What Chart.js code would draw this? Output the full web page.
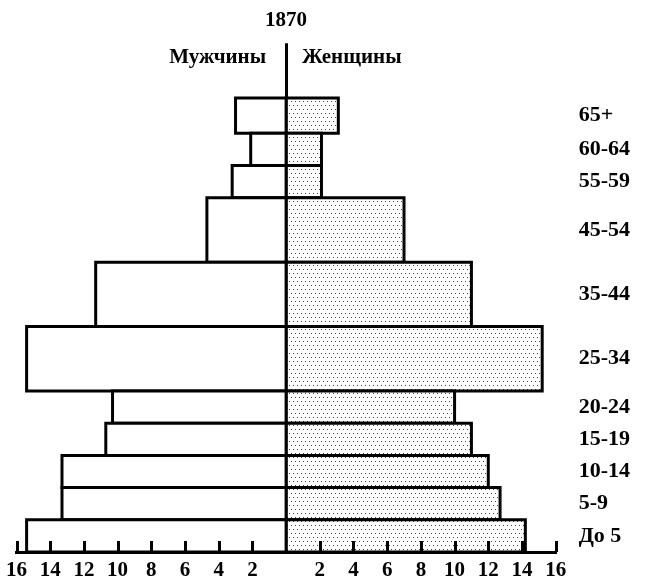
<!DOCTYPE html>
<html>
<head>
<meta charset="utf-8">
<script src="https://cdn.jsdelivr.net/npm/chart.js@4"></script>
<style>
  html, body { margin: 0; padding: 0; background: #fff; }
</style>
</head>
<body>
<canvas id="pyramidChart" width="671" height="581"></canvas>
<script>
  // Age groups, from youngest (bottom) to oldest (top)
  const ageGroups = ['До 5', '5-9', '10-14', '15-19', '20-24', '25-34', '35-44', '45-54', '55-59', '60-64', '65+'];
  const ageFrom = [0, 5, 10, 15, 20, 25, 35, 45, 55, 60, 65];
  const ageTo = [5, 10, 15, 20, 25, 35, 45, 55, 60, 65, 70.5];

  // Share of the population, %
  const men = [15.4, 13.3, 13.3, 10.7, 10.3, 15.4, 11.3, 4.7, 3.2, 2.1, 3.0];
  const women = [14.2, 12.7, 12.0, 11.0, 10.0, 15.2, 11.0, 7.0, 2.1, 2.1, 3.1];

  const sexLabels = ['Мужчины', 'Женщины'];
  const chartTitle = '1870';

  const font = '"Liberation Serif", "Times New Roman", serif';

  // Stipple pattern for the women's bars
  const tile = document.createElement('canvas');
  tile.width = 8;
  tile.height = 8;
  const tctx = tile.getContext('2d');
  tctx.fillStyle = '#fff';
  tctx.fillRect(0, 0, 8, 8);
  tctx.fillStyle = '#444';
  [[1, 1], [5, 1], [3, 5], [7, 5]].forEach(function (p) { tctx.fillRect(p[0], p[1], 1, 1); });

  const ctx = document.getElementById('pyramidChart').getContext('2d');
  const dots = ctx.createPattern(tile, 'repeat');

  // one closed rectangle per age group, from the axis (0) to the value
  function box(value, i) {
    return [
      { x: 0, y: ageFrom[i] },
      { x: value, y: ageFrom[i] },
      { x: value, y: ageTo[i] },
      { x: 0, y: ageTo[i] },
      { x: 0, y: ageFrom[i] }
    ];
  }

  const datasets = [];
  men.forEach(function (v, i) {
    datasets.push({
      label: sexLabels[0] + ' ' + ageGroups[i],
      data: box(-v, i),
      backgroundColor: '#fff',
      borderColor: '#000',
      borderWidth: 3,
      fill: 'shape'
    });
  });
  women.forEach(function (v, i) {
    datasets.push({
      label: sexLabels[1] + ' ' + ageGroups[i],
      data: box(v, i),
      backgroundColor: dots,
      borderColor: '#000',
      borderWidth: 3,
      fill: 'shape'
    });
  });

  const ageMids = ageFrom.map(function (a, i) { return (a + ageTo[i]) / 2; });

  // Мужчины / Женщины on either side of the centre line, and the short inner ticks
  const extras = {
    id: 'extras',
    afterDatasetsDraw(chart) {
      const c = chart.ctx;
      const x = chart.scales.x;
      const bottom = chart.chartArea.bottom;
      c.save();
      c.strokeStyle = '#000';
      c.lineWidth = 3;
      x.ticks.forEach(function (t) {
        if (t.value === 0) return;
        const px = Math.round(x.getPixelForValue(t.value)) + 0.5;
        c.beginPath();
        c.moveTo(px, bottom);
        c.lineTo(px, bottom - 11);
        c.stroke();
      });
      c.restore();
    },
    afterDraw(chart) {
      const c = chart.ctx;
      const cx = chart.scales.x.getPixelForValue(0);
      const y = chart.chartArea.top + 14;
      c.save();
      c.font = 'bold 21px ' + font;
      c.fillStyle = '#000';
      c.textBaseline = 'middle';
      c.textAlign = 'right';
      c.fillText(sexLabels[0], cx - 20, y);
      c.textAlign = 'left';
      c.fillText(sexLabels[1], cx + 16, y);
      c.restore();
    }
  };

  new Chart(ctx, {
    type: 'scatter',
    data: { datasets: datasets },
    options: {
      responsive: false,
      animation: false,
      showLine: true,
      elements: {
        point: { radius: 0, hoverRadius: 0 },
        line: { tension: 0, borderJoinStyle: 'miter' }
      },
      layout: {
        padding: { left: 0, right: 26, top: 6, bottom: 0 }
      },
      plugins: {
        legend: { display: false },
        tooltip: { enabled: false },
        title: {
          display: true,
          text: chartTitle,
          fullSize: false,
          color: '#000',
          font: { family: font, size: 21, weight: 'bold' },
          padding: { top: 2, bottom: 10 }
        }
      },
      scales: {
        x: {
          type: 'linear',
          min: -16,
          max: 16,
          afterFit: function (axis) { axis.height = 29; },
          border: { display: true, color: '#000', width: 3 },
          grid: {
            color: function (c) { return c.tick && c.tick.value === 0 ? '#000' : 'rgba(0,0,0,0)'; },
            lineWidth: 3,
            drawTicks: false
          },
          ticks: {
            stepSize: 2,
            color: '#000',
            padding: 6,
            font: { family: font, size: 21, weight: 'bold' },
            callback: function (v) { return v === 0 ? '' : Math.abs(v); }
          }
        },
        y: {
          type: 'linear',
          position: 'right',
          min: 0,
          max: 79,
          border: { display: false },
          grid: { display: false },
          afterBuildTicks: function (axis) {
            axis.ticks = ageMids.map(function (m) { return { value: m }; });
          },
          ticks: {
            autoSkip: false,
            color: '#000',
            padding: 15,
            font: { family: font, size: 22, weight: 'bold' },
            callback: function (v, i) { return ageGroups[i]; }
          }
        }
      }
    },
    plugins: [extras]
  });
</script>
</body>
</html>
